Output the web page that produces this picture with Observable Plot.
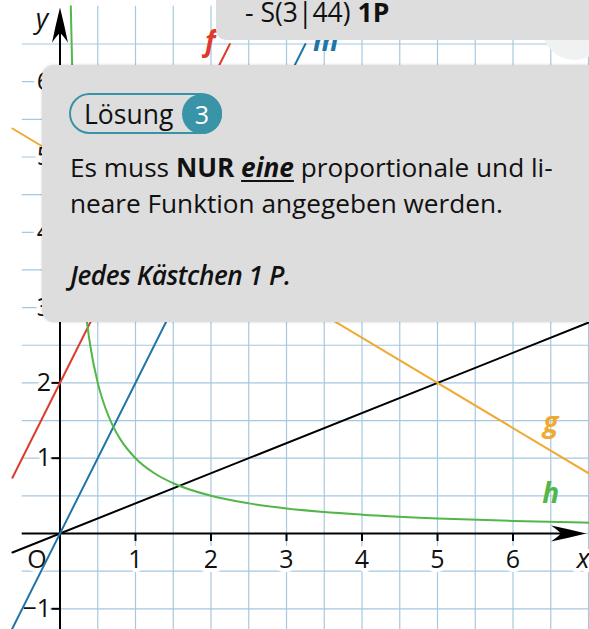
<!DOCTYPE html>
<html><head><meta charset="utf-8">
<script src="https://cdn.jsdelivr.net/npm/d3@7"></script>
<script src="https://cdn.jsdelivr.net/npm/@observablehq/plot@0.6"></script>
<style>
html,body{margin:0;padding:0;background:#fff;}
body{font-family:"Open Sans",sans-serif;color:#111;}
#wrap{position:relative;width:589px;height:629px;overflow:hidden;}
#chart{position:absolute;left:0;top:0;}
.abs{position:absolute;white-space:nowrap;}
.box{background:#dddddd;}
</style></head><body>
<div id="wrap">
  <div id="chart"></div>
  <div class="abs" style="left:542px;top:-5px;width:65px;height:65px;border-radius:50%;background:#f0f1f1;"></div>
  <div class="abs box" style="left:216px;top:-20px;width:420px;height:60px;border-radius:0 0 0 10px;"></div>
  <div class="abs" style="left:245px;top:-1px;font-size:26.5px;line-height:26px;">- S(3|44) <b>1P</b></div>
  <div class="abs box" style="left:42px;top:65px;width:600px;height:257px;border-radius:12px;box-shadow:0 0 3px rgba(0,0,0,0.18);"></div>
  <div class="abs" style="left:69px;top:93px;width:153px;height:41px;box-sizing:border-box;border:2px solid #3993a6;border-radius:21px;"></div>
  <div class="abs" style="left:84px;top:101px;font-size:26.5px;line-height:27px;">Lösung</div>
  <div class="abs" style="left:182px;top:94px;width:40px;height:40px;border-radius:50%;background:#3994a7;color:#fff;font-size:25px;line-height:40px;text-align:center;">3</div>
  <div class="abs" style="left:70px;top:149px;font-size:26.2px;line-height:36px;">
    Es muss <b>NUR</b> <b><i><u style="text-decoration-thickness:2px;text-underline-offset:3px;">eine</u></i></b> proportionale und li-<br>
    neare Funktion angegeben werden.<br><br>
    <i style="font-weight:600;letter-spacing:-0.45px;">Jedes Kästchen 1 P.</i>
  </div>
</div>
<script>
// ---- data ----
const xTickValues = [1, 2, 3, 4, 5, 6];
const yTickValues = [-1, 1, 2, 3, 4, 5, 6];
const yTickLabels = ["\u22121", "1", "2", "3", "4", "5", "6"];
const gridXValues = [0.5, 1, 1.5, 2, 2.5, 3, 3.5, 4, 4.5, 5, 5.5, 6, 6.5, 7];
const gridYValues = [-1, -0.5, 0, 0.5, 1, 1.5, 2, 2.5, 3, 3.5, 4, 4.5, 5, 5.5, 6, 6.5];

// straight lines: end points
const fX = [-0.63, 2.25], fY = [0.74, 6.5];          // f (red)
const mX = [-0.66, 3.25], mY = [-1.32, 6.5];         // m (blue)
const gX = [-0.63, 7.1],  gY = [5.378, 0.74];        // g (orange)
const kX = [-0.63, 7.1],  kY = [-0.252, 2.84];       // black line
// hyperbola h (green)
const hX = [0.143, 0.16, 0.18, 0.2, 0.23, 0.26, 0.3, 0.35, 0.4, 0.5, 0.6, 0.7, 0.8, 1, 1.25, 1.5, 2, 2.5, 3, 4, 5, 6, 7.1];
const hY = [7, 6.25, 5.56, 5, 4.35, 3.85, 3.33, 2.86, 2.5, 2, 1.67, 1.43, 1.25, 1, 0.8, 0.667, 0.5, 0.4, 0.333, 0.25, 0.2, 0.167, 0.141];

// function labels
const fnLabels = ["f", "m", "g", "h"];
const fnLabelX = [1.99, 3.52, 6.5, 6.5];
const fnLabelY = [6.52, 6.52, 1.47, 0.53];

// axis extents
const xAxisRange = [-0.5, 6.97];
const yAxisRange = [-1.3, 6.985];
const gridXRange = [-0.5, 7.1];
const gridYRange = [-1.3, 7.0];

// ---- style ----
const W = 589, H = 629;
const xDomain = [-0.788, 7.013], yDomain = [-1.275, 7.078];
const pxPerY = H / (yDomain[1] - yDomain[0]);
const pxPerX = W / (xDomain[1] - xDomain[0]);
const tickPx = 8;
const gridColor = "#a6c8e0";
const colF = "#de3b2c", colM = "#1f74a8", colG = "#f0a933", colH = "#52b748";

const pts = (xs, ys) => xs.map((x, i) => ({x, y: ys[i]}));

const arrowSymbol = {
  draw(ctx, size) {
    const r = Math.sqrt(size / Math.PI);
    ctx.moveTo(0, 0);
    ctx.quadraticCurveTo(-2.2 * r, -0.55 * r, -4.4 * r, -r);
    ctx.quadraticCurveTo(-3.4 * r, -0.3 * r, -3.2 * r, 0);
    ctx.quadraticCurveTo(-3.4 * r, 0.3 * r, -4.4 * r, r);
    ctx.quadraticCurveTo(-2.2 * r, 0.55 * r, 0, 0);
    ctx.closePath();
  }
};

const labelFont = {fontSize: 25, fontFamily: "Open Sans", fill: "#111", stroke: "white", strokeWidth: 8};

const chart = Plot.plot({
  width: W, height: H, margin: 0,
  x: {domain: xDomain, axis: null},
  y: {domain: yDomain, axis: null},
  style: {background: "white", overflow: "hidden"},
  marks: [
    Plot.ruleX(gridXValues, {x: d => d, y1: gridYRange[0], y2: gridYRange[1], stroke: gridColor, strokeWidth: 1.2}),
    Plot.ruleY(gridYValues, {y: d => d, x1: gridXRange[0], x2: gridXRange[1], stroke: gridColor, strokeWidth: 1.2}),
    // tick labels with white halo
    Plot.text(xTickValues, {x: d => d, y: 0, text: d => String(d), dy: 27, ...labelFont}),
    Plot.text(yTickValues, {x: 0, y: d => d, text: (d, i) => yTickLabels[i], dx: -9, textAnchor: "end", ...labelFont}),
    Plot.text(["O"], {x: 0, y: 0, text: d => d, dx: -23, dy: 27, ...labelFont}),
    Plot.text(["x"], {x: 6.93, y: 0, text: d => d, dy: 26, ...labelFont, fontStyle: "italic", fontSize: 27}),
    Plot.text(["y"], {x: 0, y: yAxisRange[1], text: d => d, dx: -18, dy: 12, ...labelFont, fontStyle: "italic", fontSize: 27}),
    // axes
    Plot.ruleY([0], {x1: xAxisRange[0], x2: xAxisRange[1] - 0.2, stroke: "#000", strokeWidth: 2}),
    Plot.ruleX([0], {y1: yAxisRange[0], y2: yAxisRange[1] - 0.2, stroke: "#000", strokeWidth: 2}),
    Plot.ruleX(xTickValues, {x: d => d, y1: 0, y2: -tickPx / pxPerY, stroke: "#000", strokeWidth: 2}),
    Plot.ruleY(yTickValues, {y: d => d, x1: 0, x2: -tickPx / pxPerX, stroke: "#000", strokeWidth: 2}),
    Plot.dot([0], {x: xAxisRange[1], y: 0, symbol: arrowSymbol, r: 8, fill: "#000", stroke: "none"}),
    Plot.dot([0], {x: 0, y: yAxisRange[1], symbol: arrowSymbol, r: 8, fill: "#000", stroke: "none", rotate: -90}),
    // functions
    Plot.line(pts(kX, kY), {x: "x", y: "y", stroke: "#000", strokeWidth: 2}),
    Plot.line(pts(gX, gY), {x: "x", y: "y", stroke: colG, strokeWidth: 2}),
    Plot.line(pts(fX, fY), {x: "x", y: "y", stroke: colF, strokeWidth: 2}),
    Plot.line(pts(mX, mY), {x: "x", y: "y", stroke: colM, strokeWidth: 2}),
    Plot.line(pts(hX, hY), {x: "x", y: "y", stroke: colH, strokeWidth: 2, curve: "monotone-x"}),
    Plot.text(fnLabels, {x: (d, i) => fnLabelX[i], y: (d, i) => fnLabelY[i], text: d => d,
      fill: d => ({f: colF, m: colM, g: colG, h: colH})[d], fontSize: 28, fontWeight: "bold", fontStyle: "italic", fontFamily: "Open Sans"})
  ]
});
document.getElementById("chart").appendChild(chart);
</script>
</body></html>
